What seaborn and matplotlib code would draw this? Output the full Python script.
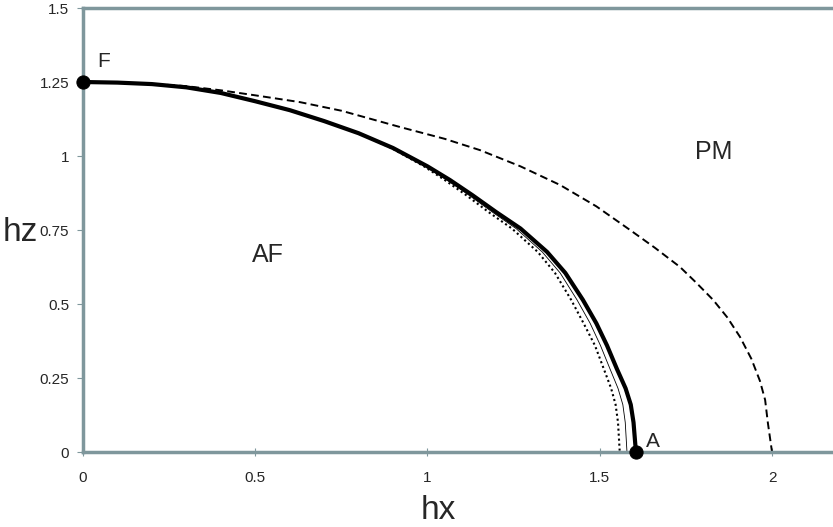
import matplotlib
matplotlib.use("Agg")
import matplotlib.pyplot as plt
import seaborn as sns
import pandas as pd

# phase boundary curves
thick_hx = [0.0, 0.1, 0.2, 0.3, 0.4, 0.5, 0.6, 0.7, 0.8, 0.9, 1.0, 1.065, 1.13, 1.2,
            1.27, 1.347, 1.4, 1.451, 1.49, 1.521, 1.55, 1.575, 1.59, 1.598, 1.605]
thick_hz = [1.25, 1.248, 1.243, 1.232, 1.213, 1.185, 1.155, 1.118, 1.077, 1.027, 0.965, 0.919, 0.868, 0.81,
            0.755, 0.676, 0.605, 0.514, 0.435, 0.36, 0.28, 0.215, 0.16, 0.1, 0.0]

thin_hx = [0.0, 0.1, 0.2, 0.3, 0.4, 0.5, 0.6, 0.7, 0.8, 0.895, 0.993, 1.056, 1.12, 1.189,
           1.257, 1.333, 1.385, 1.434, 1.472, 1.502, 1.53, 1.553, 1.567, 1.574, 1.579]
thin_hz = thick_hz

dot_hx = [0.0, 0.1, 0.2, 0.3, 0.4, 0.5, 0.6, 0.7, 0.8, 0.895, 0.99, 1.05, 1.112, 1.178,
          1.245, 1.32, 1.37, 1.417, 1.453, 1.486, 1.512, 1.533, 1.546, 1.553, 1.558]
dot_hz = thick_hz

dash_hx = [0.0, 0.1, 0.2, 0.3, 0.4, 0.5, 0.63, 0.75, 0.92, 1.05, 1.152, 1.27, 1.385, 1.49,
           1.588, 1.66, 1.733, 1.78, 1.829, 1.87, 1.907, 1.94, 1.965, 1.98, 1.988, 2.0]
dash_hz = [1.25, 1.248, 1.244, 1.236, 1.222, 1.205, 1.182, 1.153, 1.098, 1.058, 1.02, 0.965, 0.902, 0.83,
           0.75, 0.69, 0.625, 0.572, 0.514, 0.455, 0.389, 0.315, 0.24, 0.176, 0.098, 0.0]

point_hx = [0.0, 1.605]
point_hz = [1.25, 0.0]

x_ticks = [0, 0.5, 1, 1.5, 2]
y_ticks = [0, 0.25, 0.5, 0.75, 1, 1.25, 1.5]

sns.set_theme(style="white")
plt.rcParams["font.family"] = ["Liberation Sans", "DejaVu Sans"]

fig = plt.figure(figsize=(8.33, 5.27), dpi=100)
ax = fig.add_axes([0.0996, 0.1423, 0.9004, 0.8425])

spine_col = "#7f979c"
ink = "black"

sns.lineplot(data=pd.DataFrame({"hx": dash_hx, "hz": dash_hz}), x="hx", y="hz", sort=False,
             ax=ax, color=ink, lw=1.4, linestyle=(0, (4, 2.2)))
sns.lineplot(data=pd.DataFrame({"hx": dot_hx, "hz": dot_hz}), x="hx", y="hz", sort=False,
             ax=ax, color=ink, lw=1.5, linestyle=(0, (1, 1.4)))
sns.lineplot(data=pd.DataFrame({"hx": thin_hx, "hz": thin_hz}), x="hx", y="hz", sort=False,
             ax=ax, color=ink, lw=0.6)
sns.lineplot(data=pd.DataFrame({"hx": thick_hx, "hz": thick_hz}), x="hx", y="hz", sort=False,
             ax=ax, color=ink, lw=3.0)
sns.scatterplot(x=point_hx, y=point_hz, ax=ax, color=ink, s=90, zorder=5, clip_on=False,
                edgecolor=ink)

ax.set_xlim(0, 2.177)
ax.set_ylim(0, 1.5)
ax.set_xticks(x_ticks)
ax.set_xticklabels(["0", "0.5", "1", "1.5", "2"])
ax.set_yticks(y_ticks)
ax.set_yticklabels(["0", "0.25", "0.5", "0.75", "1", "1.25", "1.5"])

for side in ["left", "bottom", "top"]:
    ax.spines[side].set_color(spine_col)
    ax.spines[side].set_linewidth(2.5)
ax.spines["right"].set_visible(False)

ax.tick_params(axis="y", direction="out", length=4, width=0.8, color=spine_col,
               pad=6, labelsize=11, left=True)
ax.tick_params(axis="x", direction="inout", length=6, width=0.8, color=spine_col,
               pad=11, labelsize=11, bottom=True)

ax.set_xlabel("hx", fontsize=24)
ax.set_ylabel("hz", fontsize=24, rotation=0)
ax.xaxis.set_label_coords((438 - 83) / 750, -(510 - 452) / 444, transform=ax.transAxes)
ax.yaxis.set_label_coords(-(83 - 20) / 750, (452 - 232) / 444, transform=ax.transAxes)
ax.xaxis.label.set_va("center")
ax.yaxis.label.set_va("center")

ax.text(0.061, 1.32, "F", fontsize=15, ha="center", va="center")
ax.text(1.655, 0.034, "A", fontsize=15, ha="center", va="center")
ax.text(0.537, 0.666, "AF", fontsize=18, ha="center", va="center")
ax.text(1.832, 1.013, "PM", fontsize=18, ha="center", va="center")

fig.savefig("out.png", dpi=100)
